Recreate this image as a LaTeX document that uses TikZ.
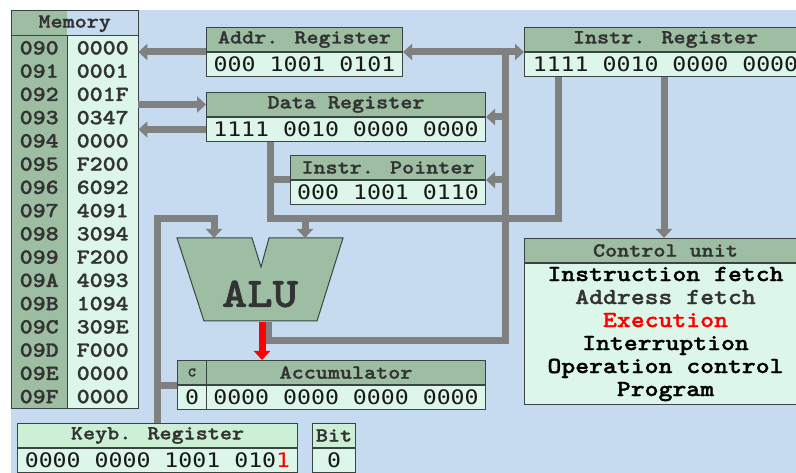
\documentclass[tikz,border=0pt]{standalone}
\usepackage{fontspec}
\setmainfont{Liberation Serif}
\newfontfamily\courb[FakeStretch=1.15,FakeBold=1.3]{lmmonolt10-bold.otf}
\newfontfamily\valfont[FakeStretch=1.16]{DejaVu Sans Mono}
\usetikzlibrary{arrows.meta,calc}
\definecolor{bg}{HTML}{C6DBF0}
\definecolor{dg}{HTML}{9DBEA3}
\definecolor{lg}{HTML}{DCF7EA}
\definecolor{kg}{HTML}{CDEFD6}
\definecolor{busc}{HTML}{808080}
\definecolor{ink}{HTML}{333333}
\definecolor{edge}{HTML}{3A4444}
\tikzset{
  hdr/.style={fill=dg, draw=edge, line width=1pt, inner sep=0pt, minimum height=24pt,
    font=\courb\fontsize{20}{22}\selectfont, text=ink},
  valbox/.style={fill=lg, draw=edge, line width=1pt, inner sep=0pt, minimum height=24pt,
    font=\valfont\fontsize{20}{22}\selectfont, text=black!90},
  busline/.style={draw=busc, line width=7pt, line join=miter},
  busarrow/.style={busline, -{Triangle[width=16pt,length=9pt]}},
  memcell/.style={inner sep=0pt, minimum height=23.25pt, font=\courb\fontsize{21.5}{23}\selectfont, text=ink},
}
\newcommand\regbox[7][]{% opts, name, x, y, width, title, value
  \node[hdr, #1, minimum width=#5, anchor=north west] (#2-t) at (#3,#4) {#6};
  \node[valbox, minimum width=#5, anchor=north west] (#2-v) at (#2-t.south west) {#7};
}
\begin{document}
\begin{tikzpicture}[x=1pt,y=-1pt]
\useasboundingbox (0,0) rectangle (796,473);
\clip (0,0) rectangle (796,473);
\fill[bg] (11,10) rectangle (796,473);

% ---------- memory ----------
\node[inner sep=0pt, minimum width=127pt, minimum height=397pt, anchor=north west] (mem) at (11,11) {};
\fill[dg] (11,11) rectangle (67,408);
\fill[lg] (67,36) rectangle (138,408);
\node[memcell, minimum width=127pt, minimum height=25pt, anchor=north west, font=\courb\fontsize{20}{22}\selectfont] (memt) at (11,11) {Memory};
\foreach \a/\v [count=\i from 0] in {090/0000,091/0001,092/001F,093/0347,094/0000,095/F200,096/6092,097/4091,098/3094,099/F200,09A/4093,09B/1094,09C/309E,09D/F000,09E/0000,09F/0000}{
  \node[memcell, minimum width=56pt, anchor=north west] (ma\i) at (11,36+\i*23.25) {\a};
  \node[memcell, minimum width=71pt, anchor=north west] (mv\i) at (67,36+\i*23.25) {\v};
}
\draw[edge, line width=1pt] (11,36) -- (138,36) (67,36) -- (67,408);
\draw[edge, line width=1pt] (mem.north west) rectangle (mem.south east);

% ---------- registers ----------
\regbox{addr}{206}{27}{196}{Addr. Register}{000 1001 0101}
\regbox{data}{206}{92}{279}{Data Register}{1111 0010 0000 0000}
\regbox{ip}{290}{155}{195}{Instr. Pointer}{000 1001 0110}
\regbox{ir}{524}{27}{282}{Instr. Register}{1111 0010 0000 0000}
\regbox[font=\courb\fontsize{13}{14}\selectfont]{cf}{177}{360}{29}{C}{0}
\regbox{acc}{206}{360}{279}{Accumulator}{0000 0000 0000 0000}
\regbox[fill=kg]{kb}{17}{423}{280}{Keyb. Register}{0000 0000 1001 010\textcolor{red}{1}}
\regbox[fill=kg]{bit}{312}{423}{43}{Bit}{0}

% ---------- control unit ----------
\node[hdr, minimum width=282pt, anchor=north west] (cu-t) at (524,238) {Control unit};
\node[fill=lg, draw=edge, line width=1pt, inner sep=0pt, minimum width=282pt, minimum height=141pt,
  anchor=north west, align=center, font=\courb\fontsize{23}{23}\selectfont] (cu-v) at (cu-t.south west)
  {Instruction fetch\\\textcolor{ink}{Address fetch}\\\textcolor{red}{Execution}\\Interruption\\Operation control\\Program};

% ---------- ALU ----------
\fill[dg] (177,238) -- (252,238) -- (261,267) -- (269,238) -- (343,238) -- (317,321) -- (204,321) -- cycle;
\draw[edge, line width=1pt] (177,238) -- (252,238) -- (261,267) -- (269,238) -- (343,238) -- (317,321) -- (204,321) -- cycle;
\node[font=\courb\fontsize{42}{42}\selectfont, text=ink, inner sep=0pt] (alu) at (260,294) {ALU};
\coordinate (alutop1) at (214,238);
\coordinate (alutop2) at (305,238);
\coordinate (alubot) at (268,322);
\coordinate (hy) at (0,219);

% ---------- connectors ----------
\coordinate (bustop) at (505,51);
\coordinate (busbot) at (505,341);
\draw[busarrow] (addr-t.south west) -- (addr-t.south west -| mem.east);
\draw[busarrow] (data-t.west -| mem.east) -- (data-t.west);
\draw[busarrow] (data-v.west) -- (data-v.west -| mem.east);
\draw[busline] (bustop) -- (busbot) -| (alubot);
\draw[busline, {Triangle[width=16pt,length=9pt]}-{Triangle[width=16pt,length=9pt]}] (addr-t.south east) -- (ir-t.south west);
\draw[busarrow] (data-t.south east -| bustop) -- (data-t.south east);
\draw[busarrow] (ip-t.south east -| bustop) -- (ip-t.south east);

\coordinate (irA) at ($(ir-v.south west)+(34,0)$);
\coordinate (irB) at ($(ir-v.south west)+(140,0)$);
\coordinate (dB) at ($(data-v.south west)+(64,0)$);
\draw[busline] (irA) |- (dB |- hy) -- (dB);
\draw[busline] (dB |- ip-t.south west) -- (ip-t.south west);
\draw[busarrow] (alutop2 |- hy) -- (alutop2);
\draw[busarrow] (irB) -- (irB |- cu-t.north);

\coordinate (kbA) at ($(kb-t.north west)+(140,0)$);
\draw[busarrow] (kbA) |- (alutop1 |- hy) -- (alutop1);
\draw[busline] (kbA |- cf-t.south west) -- (cf-t.south west);

\draw[red, line width=7pt, -{Triangle[width=16pt,length=9pt]}] (262,322) -- (262,360);
\end{tikzpicture}
\end{document}
